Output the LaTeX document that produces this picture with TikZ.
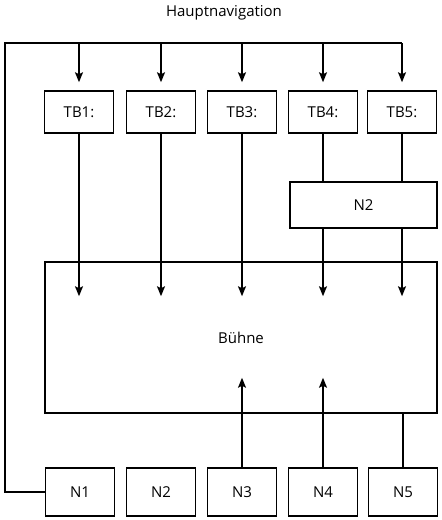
\documentclass[tikz,border=0pt]{standalone}
\usepackage{fontspec}
\setmainfont{Open Sans}
\usepackage{tikz}
\usetikzlibrary{arrows.meta}

\begin{document}
\begin{tikzpicture}[x=1pt, y=-1pt, line width=1.5pt,
    font=\fontsize{15}{17}\selectfont,
    kasten/.style={draw, minimum width=69pt, minimum height=42pt, inner sep=0pt},
    pfeil/.style={-{Stealth[length=10pt, width=8pt, inset=2pt]}}]
    \useasboundingbox (0,0) rectangle (442,520);

    % Title
    \node (titel) at (224,13) {Hauptnavigation};

    % Tab boxes
    \foreach \i/\x in {1/79, 2/161, 3/242, 4/323, 5/402}
        \node[kasten] (tb\i) at (\x,112) {TB\i:};

    % Navigation boxes below
    \foreach \i/\x in {1/80, 2/161, 3/242, 4/323, 5/403}
        \node[kasten, minimum height=48pt] (n\i) at (\x,492) {N\i};

    % Second navigation and stage
    \node[kasten, minimum width=147pt, minimum height=46pt] (nav2) at (363.5,205) {N2};
    \node[kasten, minimum width=392pt, minimum height=151pt] (buehne) at (241,337.5) {Bühne};

    % Main navigation line
    \coordinate (links) at (5,43);
    \draw (n1.west) -| (links) -- (links -| tb5.north);
    \foreach \i in {1,...,5}
        \draw[pfeil, shorten >=8pt] (links -| tb\i.north) -- (tb\i.north);

    % Tabs into stage
    \foreach \i in {1,2,3}
        \draw[pfeil] (tb\i.south) -- ([yshift=-35pt]buehne.north -| tb\i.south);
    \foreach \i in {4,5} {
        \draw (tb\i.south) -- (tb\i.south |- nav2.north);
        \draw[pfeil] (tb\i.south |- nav2.south) -- ([yshift=-35pt]buehne.north -| tb\i.south);
    }

    % From below
    \foreach \i in {3,4}
        \draw[pfeil] (n\i.north) -- ([yshift=36pt]buehne.south -| n\i.north);
    \draw (n5.north) -- (n5.north |- buehne.south);
\end{tikzpicture}
\end{document}
